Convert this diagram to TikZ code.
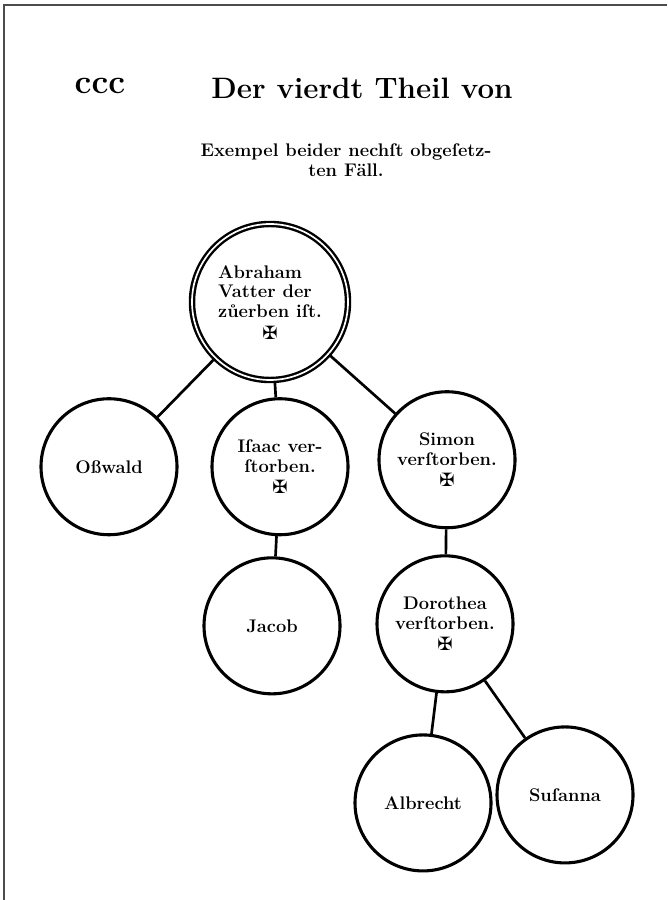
\documentclass[tikz,border=0pt]{standalone}
\usepackage{fontspec}
\newfontfamily\crossfont{DejaVu Sans}
\usetikzlibrary{positioning}
\newcommand{\obiit}{{\crossfont\fontsize{13}{13}\selectfont ✠}}

\begin{document}
\begin{tikzpicture}[
    person/.style={draw, circle, line width=2.2pt, minimum size=3.4cm, inner sep=0pt, align=center, font=\bfseries\fontsize{13}{14}\selectfont},
    stammvater/.style={person, double, line width=1.7pt, double distance=1.2pt, minimum size=3.9cm},
    ast/.style={line width=1.9pt}
]
    \useasboundingbox (0,0) rectangle (16.675,-22.5);
    \draw[gray!60!black, line width=1.2pt] (0.1,-22.5) -- (0.1,-0.125) -- (16.675,-0.125);

    \node[font=\bfseries\fontsize{24}{24}\selectfont] (blatt) at (2.5,-2.15) {ccc};
    \node[font=\bfseries\fontsize{21}{21}\selectfont] (titel) at (9.05,-2.2) {Der vierdt Theil von};
    \node[align=center, font=\bfseries\fontsize{13}{14.5}\selectfont] (exempel) at (8.65,-4.0) {Exempel beider nechſt obgeſetz-\\ten Fäll.};

    \node[stammvater] (abraham) at (6.75,-7.55) {\begin{tabular}{@{}l@{}}Abraham\\Vatter der\\zůerben iſt.\end{tabular}\\[1pt]\obiit};
    \node[person, below=0.4cm of abraham, xshift=-4.025cm] (oswald) {Oßwald};
    \node[person, below=0.4cm of abraham, xshift=0.25cm] (isaac) {Iſaac ver-\\ſtorben.\\[1pt]\obiit};
    \node[person, below=0.225cm of abraham, xshift=4.425cm] (simon) {Simon\\verſtorben.\\[1pt]\obiit};
    \node[person, below=0.5cm of isaac, xshift=-0.2cm] (jacob) {Jacob};
    \node[person, below=0.625cm of simon, xshift=-0.05cm] (dorothea) {Dorothea\\verſtorben.\\[1pt]\obiit};
    \node[person, below=1.0cm of dorothea, xshift=-0.55cm] (albrecht) {Albrecht};
    \node[person, below=0.8cm of dorothea, xshift=3.0cm] (susanna) {Suſanna};

    \draw[ast] (abraham) -- (oswald);
    \draw[ast] (abraham) -- (isaac);
    \draw[ast] (abraham) -- (simon);
    \draw[ast] (isaac) -- (jacob);
    \draw[ast] (simon) -- (dorothea);
    \draw[ast] (dorothea) -- (albrecht);
    \draw[ast] (dorothea) -- (susanna);
\end{tikzpicture}
\end{document}
